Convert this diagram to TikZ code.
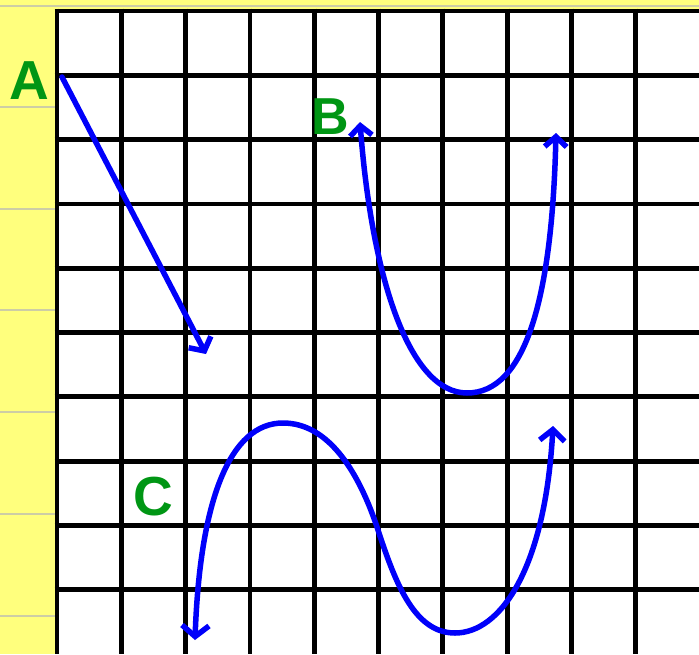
\documentclass[tikz,border=0pt]{standalone}
\usepackage{fontspec}
\setmainfont{Liberation Sans}
\usetikzlibrary{arrows.meta}
\definecolor{paperyellow}{RGB}{255,255,125}
\definecolor{ruleline}{RGB}{205,205,165}
\definecolor{penblue}{RGB}{0,0,250}
\definecolor{labelgreen}{RGB}{0,150,20}

\begin{document}
\begin{tikzpicture}[x=1pt,y=-1pt,
    gridline/.style={line width=4.8pt,black},
    curve/.style={line width=5.5pt,penblue,line cap=round,line join=round,
      arrows={-Straight Barb[length=10pt,width=25pt]}},
    lbl/.style={font=\bfseries,text=labelgreen,inner sep=0pt}]
                \useasboundingbox (0,0) rectangle (699,654);
                % Notebook paper
                \fill[paperyellow] (0,0) rectangle (699,654);
                \draw[ruleline,line width=1.5pt] (0,6) -- (699,6);
                \foreach \y in {107,209,310,412,514,616}
                  \draw[ruleline,line width=1.5pt] (0,\y) -- (55,\y);
                
                % Grid
                \fill[white] (57,11) rectangle (699,654);
                \foreach \i in {0,...,9}
                  \draw[gridline] ({57+64.3*\i},8.6) -- ({57+64.3*\i},654);
                \foreach \i in {0,...,9}
                  \draw[gridline] (54.6,{11+64.3*\i}) -- (699,{11+64.3*\i});
                
                % Labels
                \node[lbl,font=\fontsize{55}{55}\selectfont\bfseries] (labelA) at (29,81) {A};
                \node[lbl,font=\fontsize{52}{52}\selectfont\bfseries] (labelB) at (330,117) {B};
                \node[lbl,font=\fontsize{55}{55}\selectfont\bfseries] (labelC) at (153,497) {C};
                
                % Curve A
                \coordinate (startA) at (62,77);
                \coordinate (endA) at (206,354);
                \draw[curve] (startA) -- (endA);
                
                % Curve B
                \coordinate (leftB) at (360,122);
                \coordinate (bottomB) at (467,393);
                \coordinate (rightB) at (556,133);
                \draw[curve,arrows={Straight Barb[length=10pt,width=22pt]-Straight Barb[length=10pt,width=22pt]}]
                  (leftB) .. controls (372,280) and (410,393) .. (bottomB)
                  .. controls (525,393) and (552,300) .. (rightB);
                
                % Curve C
                \coordinate (leftC) at (195,640);
                \coordinate (topC) at (283,423);
                \coordinate (midC) at (378,530);
                \coordinate (bottomC) at (455,633);
                \coordinate (rightC) at (553,426);
                \draw[curve,arrows={Straight Barb[length=11pt,width=27pt]-Straight Barb[length=11pt,width=25pt]}]
                  (leftC) .. controls (200,500) and (230,423) .. (topC)
                  .. controls (330,423) and (360,475) .. (midC)
                  .. controls (396,585) and (415,633) .. (bottomC)
                  .. controls (500,633) and (545,570) .. (rightC);
\end{tikzpicture}
\end{document}
